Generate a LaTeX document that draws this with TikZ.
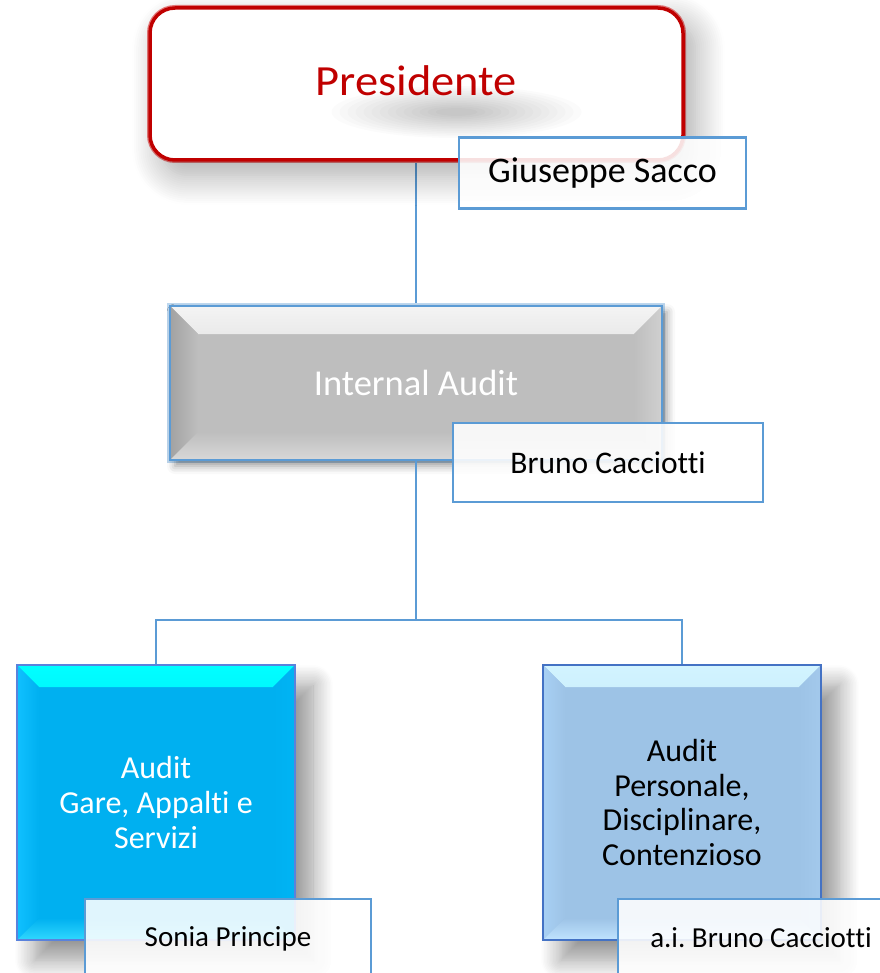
\documentclass[tikz,border=0pt]{standalone}
\usepackage{fontspec}
\setmainfont[Ligatures=NoCommon]{Carlito}
\newfontfamily\presfont[FakeStretch=1.08,Ligatures=NoCommon]{Carlito}
\usetikzlibrary{shadows.blur}
\definecolor{presred}{HTML}{C00000}
\definecolor{presglow}{HTML}{F08080}
\definecolor{lineblue}{HTML}{5B9BD5}
\definecolor{glowblue}{HTML}{BDD7EE}
\definecolor{darkblue}{HTML}{4472C4}
\definecolor{cyanborder}{HTML}{5A82DC}
\definecolor{grayfill}{HTML}{BEBEBE}
\definecolor{graytop}{HTML}{F4F4F4}
\definecolor{grayleft}{HTML}{A2A2A2}
\definecolor{grayright}{HTML}{D0D0D0}
\definecolor{graybottom}{HTML}{D8D8D8}
\definecolor{cyanfill}{HTML}{00B0F0}
\definecolor{cyantop}{HTML}{00FFFF}
\definecolor{cyanleft}{HTML}{10C0FF}
\definecolor{cyanright}{HTML}{00B4F4}
\definecolor{cyanbottom}{HTML}{30D8FF}
\definecolor{lbfill}{HTML}{9DC3E6}
\definecolor{lbtop}{HTML}{D2F4FF}
\definecolor{lbleft}{HTML}{A8D0F4}
\definecolor{lbright}{HTML}{A3C9EC}
\definecolor{lbbottom}{HTML}{C0E4FF}
\frenchspacing
\begin{document}
\begin{tikzpicture}[x=1pt,y=-1pt,
  bevel/.style n args={6}{path picture={
    \shade[top color=#2, bottom color=#6]
      (path picture bounding box.north west) -- (path picture bounding box.north east)
      -- ([shift={(-#1,-#1)}]path picture bounding box.north east)
      -- ([shift={(#1,-#1)}]path picture bounding box.north west) -- cycle;
    \shade[left color=#3, right color=#6]
      (path picture bounding box.north west) -- ([shift={(#1,-#1)}]path picture bounding box.north west)
      -- ([shift={(#1,#1)}]path picture bounding box.south west)
      -- (path picture bounding box.south west) -- cycle;
    \shade[left color=#6, right color=#4]
      (path picture bounding box.north east) -- ([shift={(-#1,-#1)}]path picture bounding box.north east)
      -- ([shift={(-#1,#1)}]path picture bounding box.south east)
      -- (path picture bounding box.south east) -- cycle;
    \shade[top color=#6, bottom color=#5]
      (path picture bounding box.south west) -- (path picture bounding box.south east)
      -- ([shift={(-#1,#1)}]path picture bounding box.south east)
      -- ([shift={(#1,#1)}]path picture bounding box.south west) -- cycle;
  }},
  presbox/.style={draw=presred, line width=3.5pt, rounded corners=25pt, fill=white,
    minimum width=533pt, minimum height=152pt, inner sep=0pt,
    preaction={draw=presglow, line width=6pt},
    blur shadow={shadow xshift=12pt, shadow yshift=-15pt, shadow blur radius=30pt,
      shadow blur steps=15, shadow opacity=35},
    path picture={\foreach \i in {0,...,13}{
        \fill[black, opacity=0.014]
        ([shift={(40pt,-28pt)}]path picture bounding box.center)
        ellipse ({125pt-8pt*\i} and {26pt-1.7pt*\i});}},
    text=presred, font=\presfont\fontsize{43}{50}\selectfont},
  namebox/.style={draw=lineblue, line width=2.2pt, fill=white, fill opacity=0.88, text opacity=1,
    inner sep=0pt, text=black},
  iabox/.style={draw=lineblue, line width=2.5pt, fill=grayfill,
    preaction={draw=glowblue, line width=5.5pt},
    blur shadow={shadow xshift=5pt, shadow yshift=-6pt, shadow blur radius=8pt, shadow opacity=40},
    minimum width=492pt, minimum height=154pt, inner sep=0pt,
    bevel={28pt}{graytop}{grayleft}{grayright}{graybottom}{grayfill},
    text=white, font=\fontsize{36.5}{42}\selectfont},
  unitbox/.style={line width=2pt, minimum width=278pt, minimum height=275pt, inner sep=0pt,
    align=center, font=\fontsize{32}{34.6}\selectfont,
    blur shadow={shadow xshift=18pt, shadow yshift=-20pt, shadow blur radius=20pt,
      shadow blur steps=14, shadow opacity=42}},
  conn/.style={draw=lineblue, line width=1.3pt}
]
\useasboundingbox (0,0) rectangle (879,973);
\coordinate (junction) at (416,620);

% connectors
\draw[conn] (416,160) coordinate (presfoot) -- (416,306) coordinate (iatop);

% boxes
\node[presbox] (pres) at (416.5,84) {\raisebox{7pt}{Presidente}};
\node[iabox] (ia) at (416,383) {Internal Audit};

\draw[conn] (ia.south) -- (junction);
\draw[conn] (junction) -| (156,665) coordinate (lefttop);
\draw[conn] (junction) -| (682,665) coordinate (righttop);

\node[unitbox, draw=cyanborder, fill=cyanfill, text=white,
  bevel={22pt}{cyantop}{cyanleft}{cyanright}{cyanbottom}{cyanfill}]
  (left) at (156,802.5) {\raisebox{7pt}{\parbox{250pt}{\centering Audit\\Gare, Appalti e\\Servizi}}};
\node[unitbox, draw=darkblue, fill=lbfill, text=black,
  bevel={22pt}{lbtop}{lbleft}{lbright}{lbbottom}{lbfill}]
  (right) at (682,802.5) {\raisebox{9pt}{\parbox{250pt}{\centering Audit\\Personale,\\Disciplinare,\\Contenzioso}}};

% name boxes
\node[namebox, minimum width=287pt, minimum height=71pt,
  font=\fontsize{36}{42}\selectfont] (giuseppe) at (602.5,173) {Giuseppe Sacco};
\node[namebox, minimum width=310pt, minimum height=79pt,
  font=\fontsize{31.5}{36}\selectfont] (bruno) at (608,462.5) {Bruno Cacciotti};
\node[namebox, minimum width=286pt, minimum height=80pt,
  font=\fontsize{29}{34}\selectfont] (sonia) at (228,939) {\raisebox{3pt}{Sonia Principe}};
\node[namebox, minimum width=286pt, minimum height=80pt,
  font=\fontsize{29}{34}\selectfont] (ai) at (761,939) {\raisebox{3pt}{a.i. Bruno Cacciotti}};
\end{tikzpicture}
\end{document}
